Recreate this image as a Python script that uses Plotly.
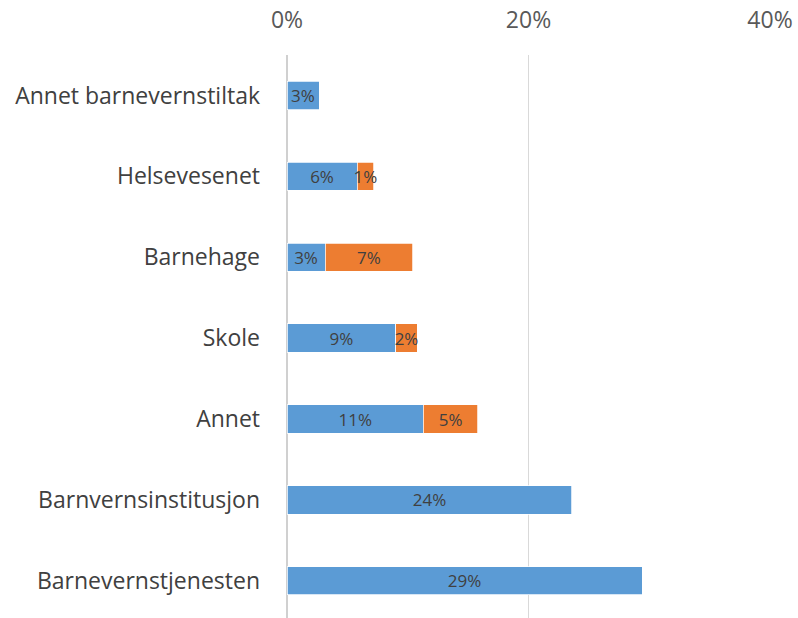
import plotly.graph_objects as go

# categories listed bottom-to-top
categories = ["Barnevernstjenesten", "Barnvernsinstitusjon", "Annet", "Skole",
              "Barnehage", "Helsevesenet", "Annet barnevernstiltak"]
series1 = [29.4, 23.6, 11.3, 9.0, 3.15, 5.8, 2.65]
series2 = [None, None, 4.5, 1.8, 7.25, 1.4, None]
tick_vals = [0, 20, 40]
tick_text = ["0%", "20%", "40%"]

FONT = "'Open Sans', Lato, sans-serif"

fig = go.Figure()
for vals, color, name in [(series1, "#5B9BD5", "Serie 1"), (series2, "#ED7D31", "Serie 2")]:
    fig.add_trace(go.Bar(
        y=categories, x=vals, orientation="h", name=name,
        marker=dict(color=color, line=dict(color="white", width=0.75)),
        texttemplate="%{x:.0f}%", textposition="inside", insidetextanchor="middle",
        textangle=0, constraintext="none",
        textfont=dict(color="#404040", size=17, family=FONT),
    ))

fig.update_layout(
    width=798, height=618,
    barmode="stack", bargap=0.65,
    showlegend=False,
    plot_bgcolor="white", paper_bgcolor="white",
    margin=dict(l=287, r=28, t=55, b=0),
    font=dict(family=FONT, color="#595959"),
    uniformtext=dict(minsize=17, mode="show"),
    xaxis=dict(
        side="top", range=[0, 40], tickvals=tick_vals, ticktext=tick_text,
        showgrid=True, gridcolor="#d9d9d9", gridwidth=1,
        zeroline=True, zerolinecolor="#d0d0d0", zerolinewidth=2,
        showline=False, ticks="", ticklabelstandoff=21, automargin=False,
        ticklabeloverflow="allow",
        tickfont=dict(size=23, color="#595959"),
    ),
    yaxis=dict(
        categoryorder="array", categoryarray=categories,
        range=[-0.46, 6.5], showgrid=False, zeroline=False, showline=False,
        ticks="", ticklabelstandoff=26, automargin=False,
        tickfont=dict(size=23, color="#404040"),
    ),
)

fig.write_html(
    "out.html",
    config={"displayModeBar": False},
    post_script="document.body.style.margin='0';document.body.style.overflow='hidden';",
)
